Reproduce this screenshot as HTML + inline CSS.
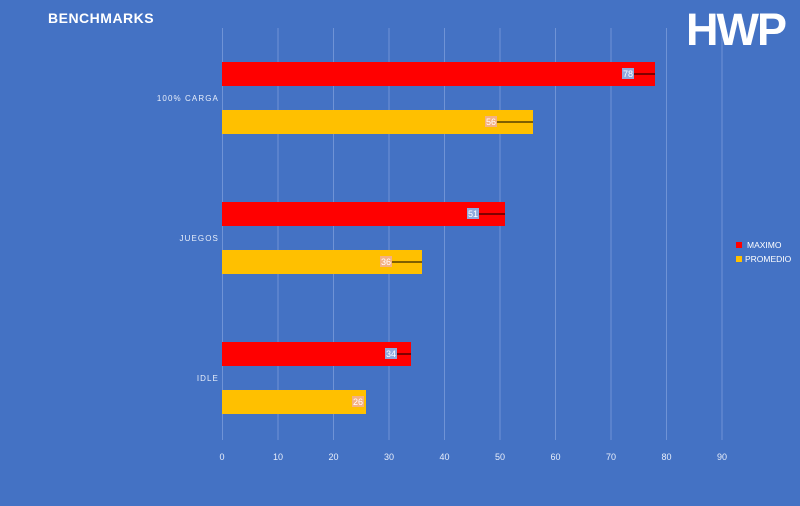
<!DOCTYPE html>
<html><head><style>
body{margin:0;width:800px;height:506px;background:#4472C4;overflow:hidden;font-family:"Liberation Sans",sans-serif}
</style></head><body>
<svg width="800" height="506" xmlns="http://www.w3.org/2000/svg" style="position:absolute;left:0;top:0">
<g stroke="#6f93d6" stroke-width="1">
<line x1="222.5" y1="28" x2="222.5" y2="440"/>
<line x1="278" y1="28" x2="278" y2="440"/>
<line x1="333.5" y1="28" x2="333.5" y2="440"/>
<line x1="389" y1="28" x2="389" y2="440"/>
<line x1="444.5" y1="28" x2="444.5" y2="440"/>
<line x1="500" y1="28" x2="500" y2="440"/>
<line x1="555.5" y1="28" x2="555.5" y2="440"/>
<line x1="611" y1="28" x2="611" y2="440"/>
<line x1="666.5" y1="28" x2="666.5" y2="440"/>
<line x1="722" y1="28" x2="722" y2="440"/>
</g>
<g fill="#FF0000">
<rect x="222" y="62" width="433" height="24"/>
<rect x="222" y="202" width="283" height="24"/>
<rect x="222" y="342" width="189" height="24"/>
</g>
<g fill="#FFC000">
<rect x="222" y="110" width="311" height="24"/>
<rect x="222" y="250" width="200" height="24"/>
<rect x="222" y="390" width="144" height="24"/>
</g>
<g stroke="#000" stroke-width="1">
<line x1="633" y1="74" x2="655" y2="74"/>
<line x1="497" y1="122" x2="533" y2="122"/>
<line x1="479" y1="214" x2="505" y2="214"/>
<line x1="392" y1="262" x2="422" y2="262"/>
<line x1="397" y1="354" x2="411" y2="354"/>
</g>
<g font-size="9" text-anchor="middle">
<rect x="622" y="68" width="12" height="11" fill="#8FAADC"/><text x="628" y="77" fill="#fff">78</text>
<rect x="485" y="116" width="12" height="11" fill="#F4B183"/><text x="491" y="125" fill="#fff">56</text>
<rect x="467" y="208" width="12" height="11" fill="#8FAADC"/><text x="473" y="217" fill="#fff">51</text>
<rect x="380" y="256" width="12" height="11" fill="#F4B183"/><text x="386" y="265" fill="#fff">36</text>
<rect x="385" y="348" width="12" height="11" fill="#8FAADC"/><text x="391" y="357" fill="#fff">34</text>
<rect x="352" y="396" width="12" height="11" fill="#F4B183"/><text x="358" y="405" fill="#fff">26</text>
</g>
<g font-size="9" fill="#e8eefa" text-anchor="middle">
<text x="222" y="460">0</text><text x="278" y="460">10</text><text x="333.5" y="460">20</text>
<text x="389" y="460">30</text><text x="444.5" y="460">40</text><text x="500" y="460">50</text>
<text x="555.5" y="460">60</text><text x="611" y="460">70</text><text x="666.5" y="460">80</text><text x="722" y="460">90</text>
</g>
<g font-size="8" fill="#e8eefa" text-anchor="end" letter-spacing="1.1">
<text x="219" y="101">100% CARGA</text>
<text x="219" y="241">JUEGOS</text>
<text x="219" y="381">IDLE</text>
</g>
<text x="48" y="23" font-size="14" font-weight="bold" fill="#fff" letter-spacing="0.5">BENCHMARKS</text>
<text x="686" y="45" font-size="45" font-weight="bold" fill="#fff" letter-spacing="-2">HWP</text>
<rect x="736" y="242" width="6" height="6" fill="#FF0000"/>
<text x="747" y="248" font-size="8.5" fill="#fff">MAXIMO</text>
<rect x="736" y="256" width="6" height="6" fill="#FFC000"/>
<text x="745" y="262" font-size="8.5" fill="#fff">PROMEDIO</text>
</svg>
</body></html>
